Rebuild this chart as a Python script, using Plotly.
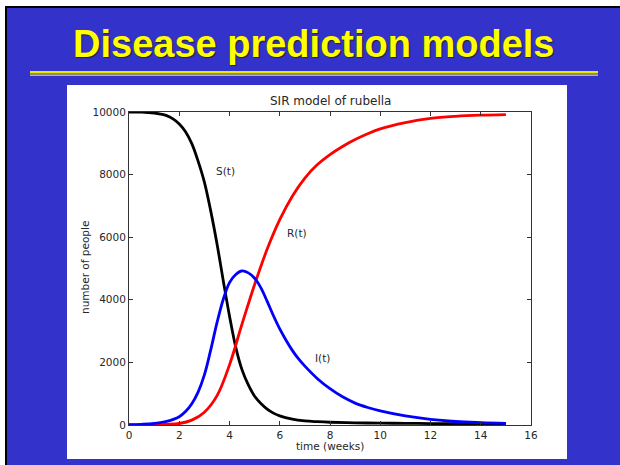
import plotly.graph_objects as go

# ---------------- data ----------------
s_t = [0, 0.5, 1, 1.25, 1.5, 1.75, 2, 2.25, 2.5, 2.75, 3, 3.25, 3.5, 3.75, 4,
       4.25, 4.5, 4.75, 5, 5.25, 5.5, 5.75, 6, 6.5, 7, 7.5, 8, 9, 10, 11, 12, 13,
       14, 15]
susceptible = [10000, 9994, 9965, 9935, 9885, 9780, 9620, 9370, 8990, 8430, 7760,
               6850, 5800, 4620, 3480, 2480, 1760, 1280, 920, 690, 510, 380, 290,
               185, 130, 105, 88, 70, 60, 52, 47, 43, 40, 38]

i_t = [0, 0.5, 1, 1.5, 2, 2.25, 2.5, 2.75, 3, 3.25, 3.5, 3.75, 4, 4.25, 4.5,
       4.75, 5, 5.25, 5.5, 5.75, 6, 6.25, 6.5, 6.75, 7, 7.5, 8, 8.5, 9, 9.5, 10,
       11, 12, 13, 14, 15]
infected = [10, 22, 50, 115, 265, 430, 680, 1050, 1600, 2390, 3260, 4010, 4550,
            4810, 4922, 4860, 4690, 4380, 3950, 3490, 3070, 2710, 2385, 2110, 1880,
            1480, 1160, 900, 700, 560, 450, 290, 180, 112, 75, 50]

r_t = [0, 0.5, 1, 1.5, 2, 2.5, 3, 3.5, 4, 4.5, 5, 5.5, 6, 6.5, 7, 7.5, 8, 8.5,
       9, 9.5, 10, 11, 12, 13, 14, 15]
recovered = [0, 2, 7, 20, 48, 155, 410, 930, 1920, 3230, 4490, 5620, 6560, 7310,
             7890, 8320, 8640, 8900, 9120, 9305, 9460, 9660, 9795, 9862, 9898,
             9916]

x_ticks = [0, 2, 4, 6, 8, 10, 12, 14, 16]
y_ticks = [0, 2000, 4000, 6000, 8000, 10000]
curve_labels = ["S(t)", "R(t)", "I(t)"]
label_t = [3.86, 6.69, 7.71]
label_v = [8130, 6128, 2138]

slide_title = "Disease prediction models"
chart_title = "SIR model of rubella"
x_title = "time (weeks)"
y_title = "number of people"

# ---------------- geometry helpers ----------------
FW, FH = 620, 465
L, R, T, B = 129, 89, 112, 40
PW, PH = FW - L - R, FH - T - B


def fx(x):
    return (x - L) / PW


def fy(y):
    return (FH - B - y) / PH


def rect(x0, y0, x1, y1, color):
    return dict(type="rect", xref="paper", yref="paper", layer="below",
                x0=fx(x0), x1=fx(x1), y0=fy(y1), y1=fy(y0),
                fillcolor=color, line=dict(width=0))


SLIDE_BLUE = "#3333cc"
TXT = "#262626"

fig = go.Figure()
for name, xs, vals, col in [("S", s_t, susceptible, "#000000"),
                            ("R", r_t, recovered, "#ff0000"),
                            ("I", i_t, infected, "#0000ff")]:
    fig.add_trace(go.Scatter(x=xs, y=vals, mode="lines", name=name,
                             line=dict(color=col, width=2.8, shape="spline",
                                       smoothing=1.0),
                             showlegend=False, hoverinfo="skip"))

shapes = [
    rect(0, 0, FW, FH, "#ffffff"),
    rect(5, 6, FW, FH, "#000000"),
    rect(7, 8, FW, FH, SLIDE_BLUE),
    rect(67, 85, 567, 459, "#ffffff"),
    rect(30, 71, 598, 73, "#e8e800"),
    rect(30, 73, 598, 75, "#8c8c6a"),
    rect(30, 75, 598, 76, "#c8c800"),
]

annotations = [
    dict(text=slide_title, xref="paper", yref="paper", x=fx(314), y=fy(44),
         xanchor="center", yanchor="middle", showarrow=False,
         font=dict(family="Liberation Sans, Arial", size=38, color="#ffff00",
                   weight="bold", shadow="1px 1px 1px #202020")),
    dict(text=chart_title, xref="paper", yref="paper", x=fx(330), y=fy(101),
         xanchor="center", yanchor="middle", showarrow=False,
         font=dict(family="DejaVu Sans", size=12, color=TXT)),
    dict(text=x_title, xref="paper", yref="paper", x=fx(330), y=fy(446),
         xanchor="center", yanchor="middle", showarrow=False,
         font=dict(family="DejaVu Sans", size=10.5, color=TXT)),
    dict(text=y_title, xref="paper", yref="paper", x=fx(85), y=fy(268),
         xanchor="center", yanchor="middle", showarrow=False, textangle=-90,
         font=dict(family="DejaVu Sans", size=10.5, color=TXT)),
]
for lab, tx, vy in zip(curve_labels, label_t, label_v):
    annotations.append(dict(text=lab, x=tx, y=vy, xref="x", yref="y",
                            showarrow=False, xanchor="center", yanchor="middle",
                            font=dict(family="DejaVu Sans", size=10.5, color=TXT)))

axis_common = dict(showgrid=False, zeroline=False, showline=True, mirror="ticks",
                   linecolor="#333333", linewidth=1, ticks="inside", ticklen=4,
                   tickcolor="#333333", tickwidth=1,
                   tickfont=dict(family="DejaVu Sans", size=10.5, color=TXT))

fig.update_layout(
    width=FW, height=FH,
    margin=dict(l=L, r=R, t=T, b=B, pad=0),
    paper_bgcolor="#ffffff", plot_bgcolor="#ffffff",
    shapes=shapes, annotations=annotations,
    xaxis=dict(range=[0, 16], tickvals=x_ticks, ticktext=[str(v) for v in x_ticks],
               **axis_common),
    yaxis=dict(range=[0, 10000], tickvals=y_ticks, ticktext=[str(v) for v in y_ticks],
               **axis_common),
)

fig.write_html("out.html", config={"displayModeBar": False},
               post_script="document.body.style.margin='0px';"
                           "document.body.style.overflow='hidden';")
